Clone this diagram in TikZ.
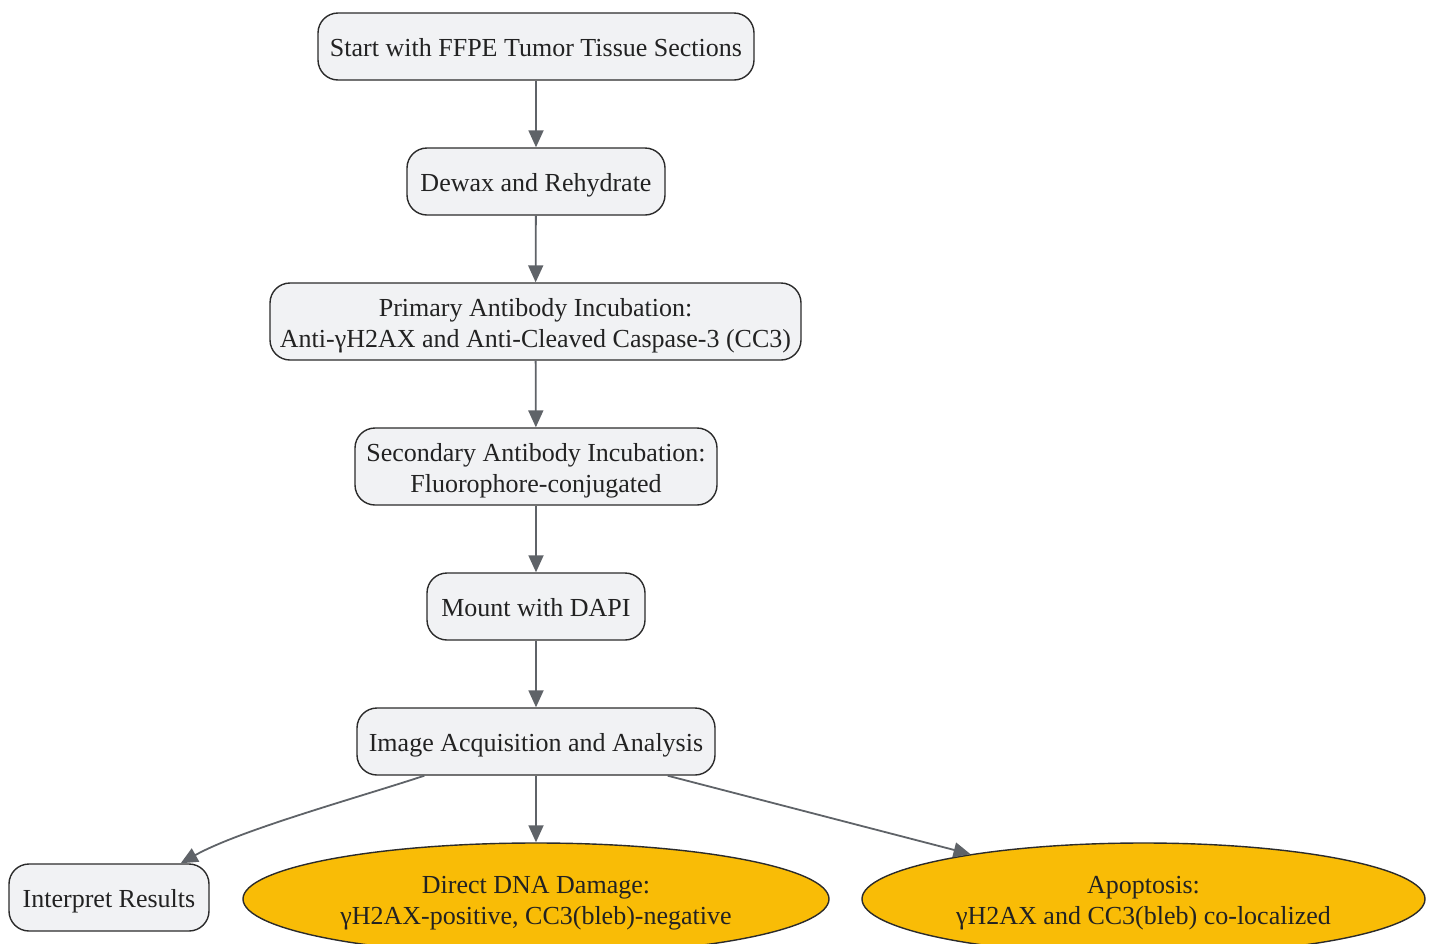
\documentclass[tikz,border=0pt]{standalone}
\usepackage{fontspec}
\setmainfont{Liberation Serif}
\usetikzlibrary{shapes.geometric,arrows.meta}
\definecolor{boxfill}{HTML}{F1F2F4}
\definecolor{boxline}{HTML}{2B2B2B}
\definecolor{edgecol}{HTML}{5F6368}
\definecolor{gold}{HTML}{F9BC06}
\definecolor{txt}{HTML}{222222}
\begin{document}
\begin{tikzpicture}[x=1pt,y=-1pt,
  stepbox/.style={draw=boxline, fill=boxfill, line width=1.4pt, rounded corners=20pt,
    inner sep=0pt, align=center, text=txt, font=\fontsize{26}{31}\selectfont,
    text height=20pt, text depth=0pt},
  twoline/.style={text height=51pt, text depth=0pt},
  outcome/.style={ellipse, draw=boxline, fill=gold, line width=1.4pt, inner sep=0pt,
    align=center, text=txt, font=\fontsize{26}{31}\selectfont,
    text height=51pt, text depth=0pt},
  flow/.style={draw=edgecol, line width=1.8pt, -{Triangle[length=17pt,width=15pt]}}]
\useasboundingbox (0,0) rectangle (1433,943);

\node[stepbox, minimum width=436pt, minimum height=67pt] (start) at (536,46.5) {Start with FFPE Tumor Tissue Sections};
\node[stepbox, minimum width=258pt, minimum height=67pt] (dewax) at (536,181.5) {Dewax and Rehydrate};
\node[stepbox, twoline, minimum width=531pt, minimum height=77pt] (prim) at (535.5,321.5) {Primary Antibody Incubation:\\Anti-γH2AX and Anti-Cleaved Caspase-3 (CC3)};
\node[stepbox, twoline, minimum width=362pt, minimum height=77pt] (sec) at (536,466.5) {Secondary Antibody Incubation:\\Fluorophore-conjugated};
\node[stepbox, minimum width=218pt, minimum height=67pt] (mount) at (536,606.5) {Mount with DAPI};
\node[stepbox, minimum width=358pt, minimum height=67pt] (img) at (536,741.5) {Image Acquisition and Analysis};
\node[stepbox, minimum width=200pt, minimum height=67pt] (interp) at (109,897.5) {Interpret Results};
\node[outcome, minimum width=586pt, minimum height=112pt] (direct) at (536,899) {Direct DNA Damage:\\γH2AX-positive, CC3(bleb)-negative};
\node[outcome, minimum width=563pt, minimum height=112pt] (apo) at (1143.5,899) {Apoptosis:\\γH2AX and CC3(bleb) co-localized};

\draw[flow] (start) -- (dewax);
\draw[flow] (dewax) -- (prim);
\draw[flow] (prim) -- (sec);
\draw[flow] (sec) -- (mount);
\draw[flow] (mount) -- (img);
\draw[flow] (img) -- (direct);
\draw[flow] ([xshift=68pt]img.south west) .. controls (360,797) and (240,830) .. ([xshift=-29pt]interp.north east);
\draw[flow] ([xshift=-48pt]img.south east) -- (apo);
\end{tikzpicture}
\end{document}
